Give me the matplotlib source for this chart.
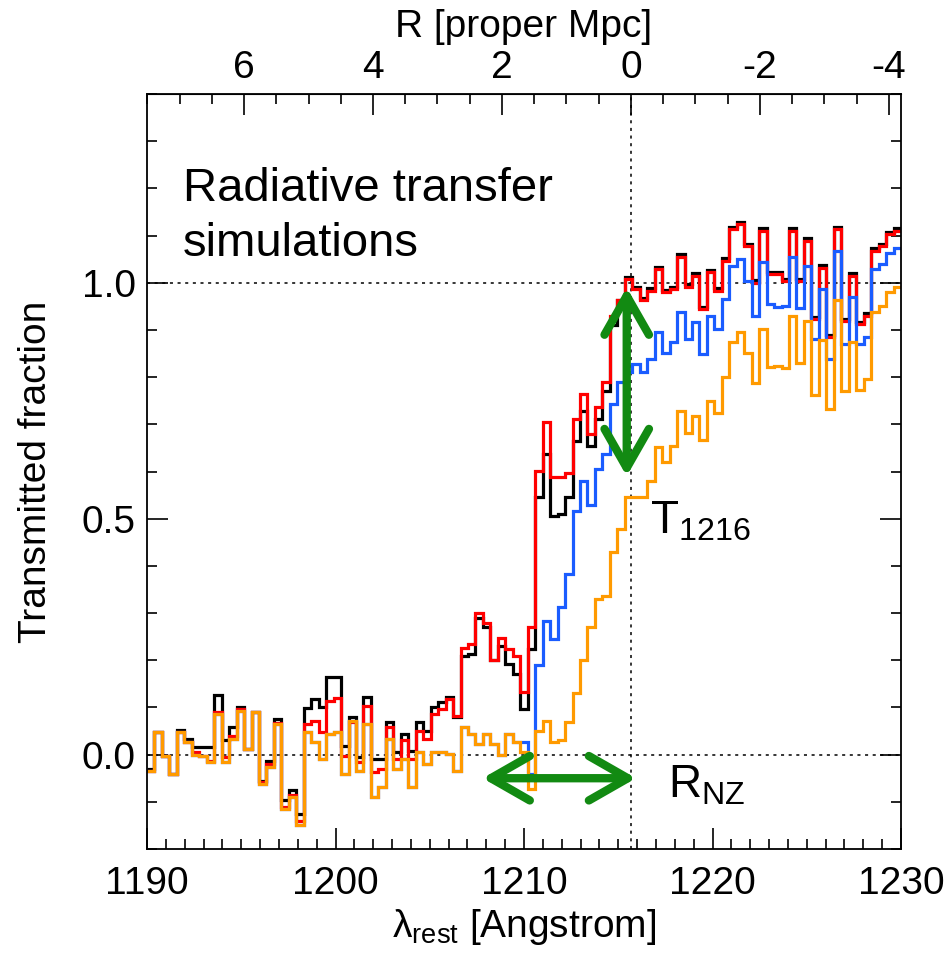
import numpy as np
import matplotlib
matplotlib.use("Agg")
import matplotlib.pyplot as plt
from matplotlib.ticker import MultipleLocator, FixedLocator

plt.rcParams['font.family'] = ['Liberation Sans', 'DejaVu Sans']
plt.rcParams['mathtext.fontset'] = 'custom'
plt.rcParams['mathtext.rm'] = 'Liberation Sans'
plt.rcParams['mathtext.it'] = 'Liberation Sans:italic'
plt.rcParams['axes.unicode_minus'] = False

# wavelength bins (rest frame, Angstrom)
lam_lo, lam_hi, nbins = 1190.0, 1230.0, 101
lya = 1215.67
ang_per_mpc = 3.42  # conversion used for the top axis
r_ticks = [6, 4, 2, 0, -2, -4]
r_minor = [7.5, 7, 6.5, 5.5, 5, 4.5, 3.5, 3, 2.5, 1.5, 1, 0.5,
           -0.5, -1, -1.5, -2.5, -3, -3.5]

black = [
    -0.030, 0.047, -0.002, -0.041, 0.052, 0.033, 0.016, 0.016, 0.016, 0.126,
    0.030, 0.059, 0.100, 0.012, 0.090, -0.055, -0.013, 0.076, -0.097, -0.075,
    -0.126, 0.098, 0.118, 0.100, 0.165, 0.164, 0.019, 0.079, -0.006, 0.123,
    -0.009, -0.009, 0.069, 0.005, 0.044, 0.008, 0.069, 0.051, 0.100, 0.111,
    0.123, 0.080, 0.210, 0.213, 0.290, 0.271, 0.200, 0.231, 0.193, 0.171,
    0.097, 0.224, 0.545, 0.637, 0.506, 0.510, 0.545, 0.665, 0.729, 0.655,
    0.711, 0.771, 0.910, 0.963, 1.013, 0.992, 0.968, 0.988, 1.034, 0.985,
    0.992, 1.060, 0.997, 1.020, 0.949, 1.027, 0.988, 1.052, 1.119, 1.129,
    1.083, 1.005, 1.115, 1.023, 1.023, 1.009, 1.115, 1.009, 1.094, 0.928,
    1.037, 0.889, 1.119, 0.924, 1.020, 0.917, 0.935, 1.073, 1.083, 1.108,
    1.115]

red = [
    -0.034, 0.047, -0.002, -0.041, 0.047, 0.026, 0.005, -0.002, -0.013, 0.090,
    -0.006, 0.040, 0.097, 0.012, 0.090, -0.058, -0.020, 0.068, -0.110, -0.085,
    -0.140, 0.065, 0.072, 0.047, 0.114, 0.119, -0.002, 0.070, -0.016, 0.104,
    -0.037, -0.030, 0.058, -0.010, 0.030, -0.010, 0.051, 0.033, 0.086, 0.097,
    0.118, 0.082, 0.226, 0.234, 0.300, 0.280, 0.200, 0.247, 0.224, 0.208,
    0.132, 0.270, 0.601, 0.704, 0.588, 0.588, 0.596, 0.711, 0.764, 0.679,
    0.736, 0.789, 0.930, 0.963, 1.008, 0.987, 0.963, 0.983, 1.029, 0.980,
    0.987, 1.055, 0.992, 1.015, 0.944, 1.022, 0.983, 1.047, 1.114, 1.124,
    1.078, 1.000, 1.110, 1.018, 1.018, 1.004, 1.110, 1.004, 1.089, 0.923,
    1.032, 0.884, 1.114, 0.919, 1.015, 0.912, 0.930, 1.068, 1.078, 1.103,
    1.110]

blue = [
    -0.034, 0.047, -0.002, -0.041, 0.047, 0.026, 0.000, -0.002, -0.016, 0.086,
    -0.016, 0.033, 0.093, 0.012, 0.090, -0.062, -0.027, 0.065, -0.115, -0.090,
    -0.150, 0.047, 0.026, -0.009, 0.044, 0.047, -0.041, 0.072, -0.034, 0.065,
    -0.090, -0.069, 0.033, -0.030, -0.009, -0.069, 0.005, -0.020, 0.005, 0.005,
    0.001, -0.034, 0.058, 0.044, 0.023, 0.044, 0.023, 0.000, 0.044, 0.026,
    0.026, -0.040, 0.189, 0.284, 0.245, 0.312, 0.383, 0.517, 0.580, 0.528,
    0.605, 0.637, 0.743, 0.789, 0.810, 0.828, 0.810, 0.838, 0.895, 0.852,
    0.874, 0.939, 0.881, 0.916, 0.850, 0.930, 0.902, 0.965, 1.036, 1.050,
    1.004, 0.930, 1.043, 0.955, 0.948, 0.951, 1.054, 0.947, 1.036, 0.881,
    0.987, 0.838, 1.068, 0.870, 0.970, 0.870, 0.886, 1.029, 1.040, 1.064,
    1.073]

orange = [
    -0.034, 0.047, -0.002, -0.041, 0.047, 0.026, 0.000, -0.002, -0.016, 0.086,
    -0.016, 0.033, 0.093, 0.012, 0.090, -0.062, -0.027, 0.065, -0.115, -0.090,
    -0.150, 0.047, 0.026, -0.009, 0.044, 0.047, -0.041, 0.072, -0.034, 0.065,
    -0.090, -0.069, 0.033, -0.030, -0.009, -0.069, 0.005, -0.020, 0.005, 0.005,
    0.001, -0.034, 0.058, 0.044, 0.023, 0.044, 0.023, 0.000, 0.044, 0.026,
    0.005, -0.073, 0.051, 0.072, 0.026, 0.030, 0.070, 0.130, 0.200, 0.270,
    0.330, 0.337, 0.429, 0.478, 0.547, 0.547, 0.547, 0.580, 0.651, 0.621,
    0.654, 0.729, 0.681, 0.718, 0.667, 0.750, 0.725, 0.800, 0.874, 0.896,
    0.852, 0.787, 0.902, 0.822, 0.824, 0.820, 0.930, 0.829, 0.919, 0.763,
    0.879, 0.732, 0.963, 0.770, 0.874, 0.773, 0.796, 0.939, 0.951, 0.980,
    0.990]

series = [(black, 'black'), (red, '#ff0000'), (blue, '#1a5cff'), (orange, '#ff9a00')]
green = '#128a12'

edges = np.linspace(lam_lo, lam_hi, nbins + 1)

fig = plt.figure(figsize=(9.49, 9.58), dpi=100)
ax = fig.add_axes([147/949, 1 - 849/958, 754/949, 755/958])

dots = (0, (2, 3))
ax.axhline(0.0, color='black', lw=1.1, ls=dots, zorder=1)
ax.axhline(1.0, color='black', lw=1.1, ls=dots, zorder=1)
ax.axvline(lya, color='black', lw=1.1, ls=dots, zorder=1)

for vals, col in series:
    ax.stairs(vals, edges, baseline=None, color=col, lw=2.3, zorder=2)

ax.set_xlim(lam_lo, lam_hi)
ax.set_ylim(-0.2, 1.4)

ax.xaxis.set_major_locator(MultipleLocator(10))
ax.xaxis.set_minor_locator(MultipleLocator(1))
ax.yaxis.set_major_locator(MultipleLocator(0.5))
ax.yaxis.set_minor_locator(MultipleLocator(0.1))
ax.tick_params(which='both', direction='in', top=False, right=True,
               width=1.2, labelsize=28)
ax.tick_params(which='major', length=15)
ax.tick_params(which='minor', length=7)
ax.tick_params(axis='x', pad=12)
ax.tick_params(axis='y', pad=8)
for sp in ax.spines.values():
    sp.set_linewidth(1.3)

ax.set_xlabel('$\\mathrm{λ}_{\\mathrm{rest}}$ [Angstrom]', fontsize=28, labelpad=4)
ax.set_ylabel('Transmitted fraction', fontsize=28, labelpad=20)

# proper distance from the quasar on the top axis
top = ax.secondary_xaxis('top', functions=(lambda l: (lya - l) / ang_per_mpc,
                                           lambda r: lya - r * ang_per_mpc))
top.xaxis.set_major_locator(FixedLocator(r_ticks))
top.xaxis.set_minor_locator(FixedLocator(r_minor))
top.tick_params(which='both', direction='in', width=1.2, labelsize=28, pad=6)
top.tick_params(which='major', length=15)
top.tick_params(which='minor', length=7)
top.set_xlabel('R [proper Mpc]', fontsize=28, labelpad=9)

ax.text(1191.9, 1.174, 'Radiative transfer', fontsize=34, va='baseline')
ax.text(1191.9, 1.057, 'simulations', fontsize=34, va='baseline')

ax.text(1216.68, 0.468, 'T$_{\\mathrm{1216}}$', fontsize=33, va='baseline')
ax.text(1217.64, -0.091, 'R$_{\\mathrm{NZ}}$', fontsize=33, va='baseline')

arrow = dict(arrowstyle='<->,head_length=2.8,head_width=1.6', lw=6,
             color=green, shrinkA=0, shrinkB=0, mutation_scale=10,
             capstyle='round', joinstyle='round')
ax.annotate('', xy=(1215.45, 0.99), xytext=(1215.45, 0.59), arrowprops=arrow, zorder=5)
ax.annotate('', xy=(1207.8, -0.05), xytext=(1215.95, -0.05), arrowprops=arrow, zorder=5)

fig.savefig('out.png', dpi=100)
